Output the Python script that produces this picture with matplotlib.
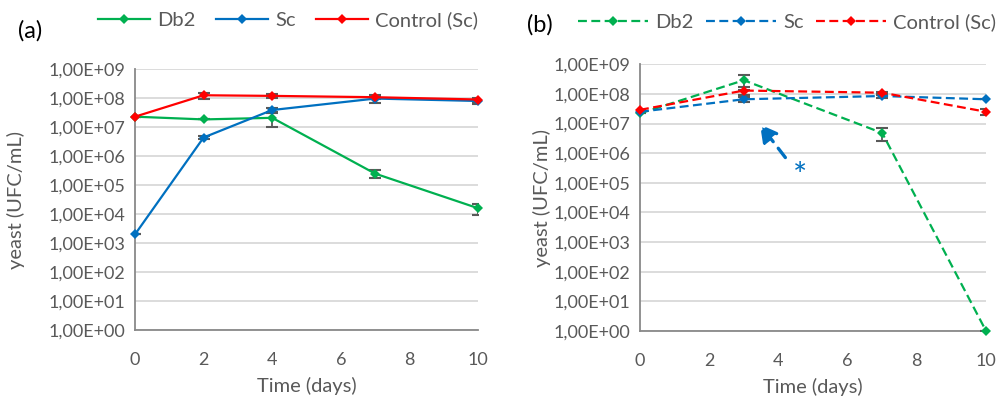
import matplotlib
matplotlib.use("Agg")
import matplotlib.pyplot as plt
from matplotlib.ticker import FixedLocator, FuncFormatter, NullLocator
import numpy as np

plt.rcParams['font.family'] = ['Lato', 'DejaVu Sans']

# ---- data panel (a) ----
days_a = [0, 2, 4, 7, 10]
db2_a = [2.3e7, 1.85e7, 2.1e7, 2.5e5, 1.6e4]
db2_a_err = [0, 0, 1.1e7, 7e4, 7e3]
sc_a = [2.0e3, 4.4e6, 3.9e7, 9.7e7, 8.0e7]
sc_a_err = [0, 6e5, 6e6, 3e7, 1.5e7]
ctrl_a = [2.3e7, 1.26e8, 1.2e8, 1.08e8, 9.0e7]
ctrl_a_err = [0, 3e7, 1.5e7, 1.5e7, 1.5e7]

# ---- data panel (b) ----
days_b = [0, 3, 7, 10]
db2_b = [2.2e7, 2.9e8, 4.8e6, 1.0]
db2_b_err = [0, 1.5e8, 2.3e6, 0]
sc_b = [2.5e7, 6.6e7, 8.5e7, 6.6e7]
sc_b_err = [0, 1.2e7, 1e7, 0]
ctrl_b = [2.9e7, 1.3e8, 1.1e8, 2.5e7]
ctrl_b_err = [0, 4e7, 1e7, 5e6]

series_names = ["Db2", "Sc", "Control (Sc)"]
colors = ["#00B050", "#0070C0", "#FF0000"]
xticks = [0, 2, 4, 6, 8, 10]
ytick_exps = list(range(0, 10))

arrow_tip = (3.42, 1.1e7)
arrow_tail = (4.25, 6.0e5)
star_pos = (4.62, 1.6e5)

TXT = "#595959"
GRID = "#D9D9D9"
AX = "#898989"
FS = 13
LFS = 14.5

fig = plt.figure(figsize=(10, 4.07), dpi=100)
ax_a = fig.add_axes([0.135, 0.189, 0.343, 0.641])
ax_b = fig.add_axes([0.640, 0.187, 0.346, 0.655])


def fmt(v, pos):
    e = int(round(np.log10(v)))
    return "1,00E+%02d" % e


def style(ax, ylpad):
    ax.set_yscale('log')
    ax.set_xlim(0, 10)
    ax.set_ylim(1, 1e9)
    ax.yaxis.set_major_locator(FixedLocator([10.0 ** e for e in ytick_exps]))
    ax.yaxis.set_minor_locator(NullLocator())
    ax.yaxis.set_major_formatter(FuncFormatter(fmt))
    ax.set_xticks(xticks)
    ax.grid(axis='y', color=GRID, lw=1.3)
    ax.set_axisbelow(True)
    for s in ['top', 'right']:
        ax.spines[s].set_visible(False)
    for s in ['left', 'bottom']:
        ax.spines[s].set_color(AX)
        ax.spines[s].set_linewidth(1.3)
    ax.tick_params(axis='both', length=0, labelsize=FS, colors=TXT, pad=7)
    ax.tick_params(axis='x', pad=16)
    ax.set_xlabel("Time (days)", fontsize=LFS, color=TXT, labelpad=6)
    ax.set_ylabel("yeast (UFC/mL)", fontsize=LFS, color=TXT, labelpad=ylpad)


def draw(ax, days, vals, errs, dashed):
    handles = []
    for name, v, e, c in zip(series_names, vals, errs, colors):
        ax.errorbar(days, v, yerr=e, fmt='none', ecolor='#595959',
                    elinewidth=1.3, capsize=4, capthick=1.5, zorder=3)
        ls = (0, (4, 2)) if dashed else '-'
        h, = ax.plot(days, v, color=c, lw=1.6, ls=ls, marker='D',
                     markersize=5.5, markeredgewidth=0, zorder=4, label=name,
                     clip_on=False)
        handles.append(h)
    return handles


style(ax_a, 17)
style(ax_b, 2)
ha = draw(ax_a, days_a, [db2_a, sc_a, ctrl_a], [db2_a_err, sc_a_err, ctrl_a_err], False)
hb = draw(ax_b, days_b, [db2_b, sc_b, ctrl_b], [db2_b_err, sc_b_err, ctrl_b_err], True)

fig.legend(handles=ha, loc='center', bbox_to_anchor=(0.288, 0.951), ncol=3,
           frameon=False, fontsize=LFS, handlelength=2.6, columnspacing=1.0,
           handletextpad=0.35, labelcolor=TXT)
fig.legend(handles=hb, loc='center', bbox_to_anchor=(0.787, 0.946), ncol=3,
           frameon=False, fontsize=LFS, handlelength=3.5, columnspacing=0.6,
           handletextpad=0.35, labelcolor=TXT)

fig.text(0.018, 0.925, "(a)", fontsize=17, color='black', va='center')
fig.text(0.527, 0.938, "(b)", fontsize=17, color='black', va='center')

ax_b.annotate("", xy=arrow_tip, xytext=arrow_tail,
              arrowprops=dict(arrowstyle='-|>,head_length=1.0,head_width=0.55',
                              color="#0070C0", lw=2.4, ls=(0, (3.5, 2.5))),
              zorder=5)
ax_b.text(star_pos[0], star_pos[1], "*", color="#0070C0", fontsize=24,
          ha='center', va='center')

fig.savefig("out.png", dpi=100)
